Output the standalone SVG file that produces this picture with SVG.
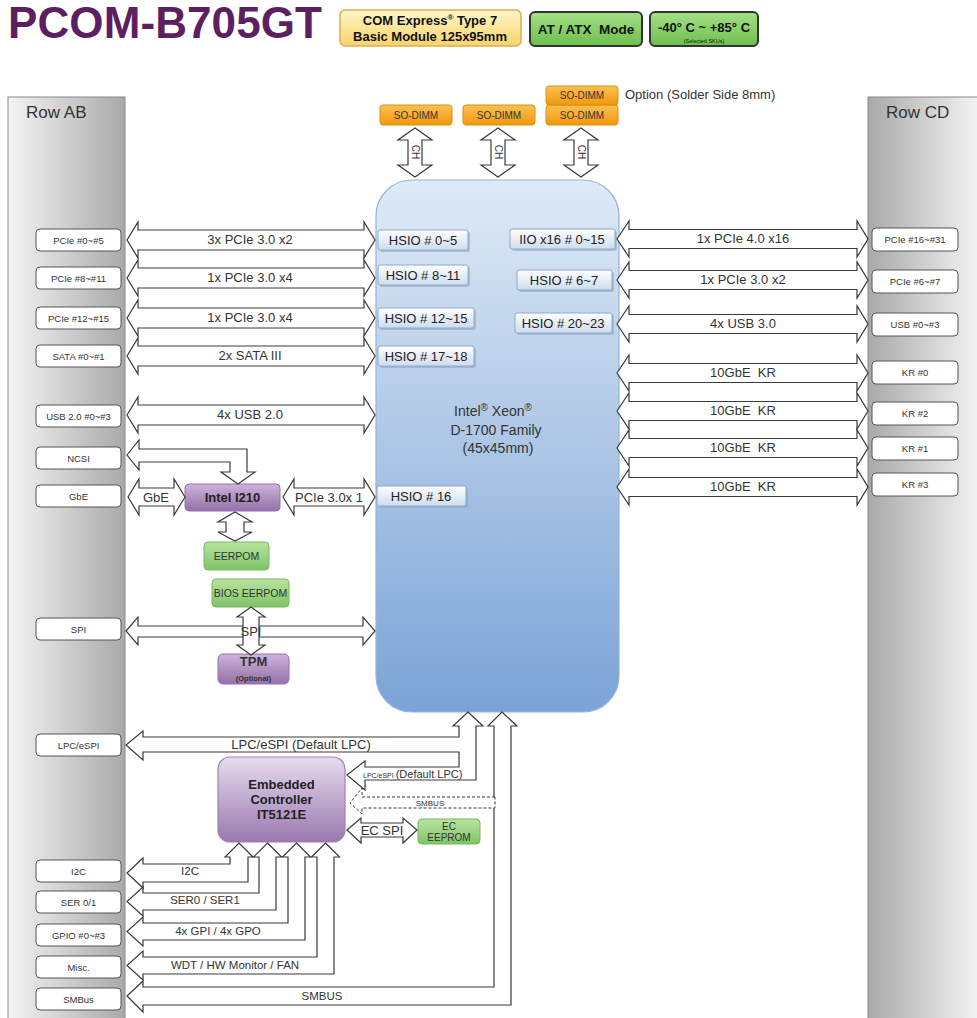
<svg xmlns="http://www.w3.org/2000/svg" width="977" height="1018" viewBox="0 0 977 1018">
<defs>
<linearGradient id="gAB" x1="0" y1="0" x2="1" y2="0"><stop offset="0" stop-color="#f4f4f4"/><stop offset="1" stop-color="#a9a9a9"/></linearGradient>
<linearGradient id="gCD" x1="0" y1="0" x2="1" y2="0"><stop offset="0" stop-color="#a9a9a9"/><stop offset="1" stop-color="#f4f4f4"/></linearGradient>
<linearGradient id="gCPU" x1="0" y1="0" x2="0" y2="1"><stop offset="0" stop-color="#dfeaf6"/><stop offset="1" stop-color="#7ba3d6"/></linearGradient>
<linearGradient id="gHS" x1="0" y1="0" x2="0" y2="1"><stop offset="0" stop-color="#ffffff"/><stop offset="1" stop-color="#cddcee"/></linearGradient>
<linearGradient id="gSO" x1="0" y1="0" x2="0" y2="1"><stop offset="0" stop-color="#fdc050"/><stop offset="1" stop-color="#f0980e"/></linearGradient>
<linearGradient id="gGr" x1="0" y1="0" x2="0" y2="1"><stop offset="0" stop-color="#b8e4a0"/><stop offset="1" stop-color="#7fc466"/></linearGradient>
<linearGradient id="gPu" x1="0" y1="0" x2="0" y2="1"><stop offset="0" stop-color="#cdb4da"/><stop offset="1" stop-color="#9470a8"/></linearGradient>
<linearGradient id="gEC" x1="0" y1="0" x2="0" y2="1"><stop offset="0" stop-color="#e6dcee"/><stop offset="1" stop-color="#9a78ae"/></linearGradient>
<linearGradient id="gYel" x1="0" y1="0" x2="0" y2="1"><stop offset="0" stop-color="#fff6c8"/><stop offset="1" stop-color="#f6d46a"/></linearGradient>
<linearGradient id="gGB" x1="0" y1="0" x2="0" y2="1"><stop offset="0" stop-color="#a6e088"/><stop offset="1" stop-color="#6cbf4c"/></linearGradient>
</defs>
<style>
text{font-family:"Liberation Sans",Arial,sans-serif;fill:#333}
.box{fill:#fff;stroke:#555;stroke-width:1}
.bt{font-size:9.5px;text-anchor:middle}
.arr{fill:#fff;stroke:#3a3a3a;stroke-width:1.2;stroke-linejoin:miter}
.dash{fill:#fff;stroke:#3a3a3a;stroke-width:1;stroke-dasharray:3,2}
.al{font-size:13px;text-anchor:middle}
.sl{font-size:11.5px;text-anchor:middle}
.hs{fill:url(#gHS);stroke:#90a8c8;stroke-width:1}
.hsh{fill:#8ea6c4;opacity:.6}
.ht{font-size:13px;text-anchor:middle;fill:#222}
.so{fill:url(#gSO);stroke:#d9900f;stroke-width:1}
.sot{font-size:10px;text-anchor:middle}
.gr{fill:url(#gGr);stroke:#78b860;stroke-width:1}
.grt{font-size:10.5px;text-anchor:middle}
.pu{fill:url(#gPu);stroke:#9a70b0;stroke-width:1}
</style>

<!-- header -->
<g id="title">
<text x="8" y="38" font-size="44" font-weight="bold" textLength="314" style="fill:#5c1f62">PCOM-B705GT</text>
</g>
<g id="badge-com">
<rect x="340" y="10" width="181" height="36" rx="5" fill="url(#gYel)" stroke="#d8b050" stroke-width="1.5"/>
<text x="430" y="25" font-size="13" font-weight="bold" text-anchor="middle" style="fill:#111">COM Express<tspan font-size="8" dy="-5">®</tspan><tspan dy="5"> Type 7</tspan></text>
<text x="430" y="41" font-size="13" font-weight="bold" text-anchor="middle" style="fill:#111">Basic Module 125x95mm</text>
</g>
<g id="badge-atx">
<rect x="530" y="12" width="112" height="34" rx="5" fill="url(#gGB)" stroke="#333" stroke-width="2"/>
<text x="586" y="34" font-size="13.5" font-weight="bold" text-anchor="middle" style="fill:#111">AT / ATX&#160; Mode</text>
</g>
<g id="badge-temp">
<rect x="650" y="12" width="108" height="34" rx="5" fill="url(#gGB)" stroke="#333" stroke-width="2"/>
<text x="704" y="32" font-size="13" font-weight="bold" text-anchor="middle" style="fill:#111">-40° C ~ +85° C</text>
<text x="704" y="43" font-size="5.5" text-anchor="middle" style="fill:#111">(Selected SKUs)</text>
</g>

<!-- columns -->
<g id="rowAB">
<rect x="8" y="97" width="117" height="925" fill="url(#gAB)" stroke="#888" stroke-width="1"/>
<text x="26" y="118" font-size="17">Row AB</text>
</g>
<g id="rowCD">
<rect x="868" y="97" width="112" height="925" fill="url(#gCD)" stroke="#888" stroke-width="1"/>
<text x="886" y="118" font-size="17">Row CD</text>
</g>

<!-- CPU -->
<g id="cpu">
<rect x="376" y="180" width="243" height="532" rx="36" fill="url(#gCPU)" stroke="#94b4dc" stroke-width="1.2"/>
<text x="493" y="416" font-size="14" text-anchor="middle">Intel<tspan font-size="10" dy="-5">®</tspan><tspan dy="5"> Xeon</tspan><tspan font-size="10" dy="-5">®</tspan></text>
<text x="496" y="435" font-size="14" text-anchor="middle">D-1700 Family</text>
<text x="498" y="453" font-size="14" text-anchor="middle">(45x45mm)</text>
<g id="hsio-0-5"><rect class="hsh" x="380" y="232" width="90" height="20" rx="2"/><rect class="hs" x="378" y="230" width="90" height="20" rx="2"/><text class="ht" x="423" y="245">HSIO # 0~5</text></g>
<g id="hsio-8-11"><rect class="hsh" x="380" y="267" width="90" height="20" rx="2"/><rect class="hs" x="378" y="265" width="90" height="20" rx="2"/><text class="ht" x="423" y="280">HSIO # 8~11</text></g>
<g id="hsio-12-15"><rect class="hsh" x="380" y="310" width="96" height="20" rx="2"/><rect class="hs" x="378" y="308" width="96" height="20" rx="2"/><text class="ht" x="426" y="323">HSIO # 12~15</text></g>
<g id="hsio-17-18"><rect class="hsh" x="380" y="348" width="96" height="20" rx="2"/><rect class="hs" x="378" y="346" width="96" height="20" rx="2"/><text class="ht" x="426" y="361">HSIO # 17~18</text></g>
<g id="hsio-16"><rect class="hsh" x="379" y="488" width="89" height="20" rx="2"/><rect class="hs" x="377" y="486" width="89" height="20" rx="2"/><text class="ht" x="421" y="501">HSIO # 16</text></g>
<g id="iio-0-15"><rect class="hsh" x="512" y="231" width="105" height="20" rx="2"/><rect class="hs" x="510" y="229" width="105" height="20" rx="2"/><text class="ht" x="562" y="244">IIO x16 # 0~15</text></g>
<g id="hsio-6-7"><rect class="hsh" x="519" y="272" width="95" height="20" rx="2"/><rect class="hs" x="517" y="270" width="95" height="20" rx="2"/><text class="ht" x="564" y="285">HSIO # 6~7</text></g>
<g id="hsio-20-23"><rect class="hsh" x="517" y="315" width="97" height="20" rx="2"/><rect class="hs" x="515" y="313" width="97" height="20" rx="2"/><text class="ht" x="563" y="328">HSIO # 20~23</text></g>
</g>

<!-- SO-DIMM -->
<g id="sodimm1"><rect class="so" x="380" y="105" width="72" height="20" rx="3"/><text class="sot" x="416" y="119">SO-DIMM</text></g>
<g id="sodimm2"><rect class="so" x="463" y="105" width="72" height="20" rx="3"/><text class="sot" x="499" y="119">SO-DIMM</text></g>
<g id="sodimm3"><rect class="so" x="546" y="105" width="72" height="20" rx="3"/><text class="sot" x="582" y="119">SO-DIMM</text></g>
<g id="sodimm4"><rect class="so" x="546" y="86" width="72" height="19" rx="3"/><text class="sot" x="582" y="99">SO-DIMM</text></g>
<text x="625" y="99" font-size="13">Option (Solder Side 8mm)</text>

<!-- left boxes -->
<g id="ab-pcie0"><rect class="box" x="36" y="229" width="85" height="22" rx="4"/><text class="bt" x="78.5" y="243.5">PCIe #0~#5</text></g>
<g id="ab-pcie8"><rect class="box" x="36" y="267" width="85" height="22" rx="4"/><text class="bt" x="78.5" y="281.5">PCIe #8~#11</text></g>
<g id="ab-pcie12"><rect class="box" x="36" y="307" width="85" height="22" rx="4"/><text class="bt" x="78.5" y="321.5">PCIe #12~#15</text></g>
<g id="ab-sata"><rect class="box" x="36" y="345" width="85" height="22" rx="4"/><text class="bt" x="78.5" y="359.5">SATA #0~#1</text></g>
<g id="ab-usb2"><rect class="box" x="36" y="405" width="85" height="22" rx="4"/><text class="bt" x="78.5" y="419.5">USB 2.0 #0~#3</text></g>
<g id="ab-ncsi"><rect class="box" x="36" y="447" width="85" height="22" rx="4"/><text class="bt" x="78.5" y="461.5">NCSI</text></g>
<g id="ab-gbe"><rect class="box" x="36" y="485" width="85" height="22" rx="4"/><text class="bt" x="78.5" y="499.5">GbE</text></g>
<g id="ab-spi"><rect class="box" x="36" y="618" width="85" height="22" rx="4"/><text class="bt" x="78.5" y="632.5">SPI</text></g>
<g id="ab-lpc"><rect class="box" x="36" y="734" width="85" height="22" rx="4"/><text class="bt" x="78.5" y="748.5">LPC/eSPI</text></g>
<g id="ab-i2c"><rect class="box" x="36" y="860" width="85" height="22" rx="4"/><text class="bt" x="78.5" y="874.5">I2C</text></g>
<g id="ab-ser"><rect class="box" x="36" y="891" width="85" height="22" rx="4"/><text class="bt" x="78.5" y="905.5">SER 0/1</text></g>
<g id="ab-gpio"><rect class="box" x="36" y="924" width="85" height="22" rx="4"/><text class="bt" x="78.5" y="938.5">GPIO #0~#3</text></g>
<g id="ab-misc"><rect class="box" x="36" y="956" width="85" height="22" rx="4"/><text class="bt" x="78.5" y="970.5">Misc.</text></g>
<g id="ab-smbus"><rect class="box" x="36" y="988" width="85" height="22" rx="4"/><text class="bt" x="78.5" y="1002.5">SMBus</text></g>

<!-- right boxes -->
<g id="cd-pcie16"><rect class="box" x="872" y="228" width="86" height="23" rx="4"/><text class="bt" x="915" y="243">PCIe #16~#31</text></g>
<g id="cd-pcie6"><rect class="box" x="872" y="270" width="86" height="23" rx="4"/><text class="bt" x="915" y="285">PCIe #6~#7</text></g>
<g id="cd-usb"><rect class="box" x="872" y="313" width="86" height="23" rx="4"/><text class="bt" x="915" y="328">USB #0~#3</text></g>
<g id="cd-kr0"><rect class="box" x="872" y="361" width="86" height="23" rx="4"/><text class="bt" x="915" y="376">KR #0</text></g>
<g id="cd-kr2"><rect class="box" x="872" y="402" width="86" height="23" rx="4"/><text class="bt" x="915" y="417">KR #2</text></g>
<g id="cd-kr1"><rect class="box" x="872" y="437" width="86" height="23" rx="4"/><text class="bt" x="915" y="452">KR #1</text></g>
<g id="cd-kr3"><rect class="box" x="872" y="473" width="86" height="23" rx="4"/><text class="bt" x="915" y="488">KR #3</text></g>

<!-- other chips -->
<g id="i210"><rect class="pu" x="185" y="484" width="95" height="27" rx="4"/><text x="232.5" y="502" font-size="13" font-weight="bold" text-anchor="middle" style="fill:#222">Intel I210</text></g>
<g id="eerpom"><rect class="gr" x="204" y="542" width="65" height="28" rx="4"/><text class="grt" x="236.5" y="560">EERPOM</text></g>
<g id="bios"><rect class="gr" x="212" y="579" width="77" height="28" rx="4"/><text class="grt" x="250.5" y="597">BIOS EERPOM</text></g>
<g id="tpm"><rect class="pu" x="218" y="654" width="71" height="30" rx="5"/><text x="253.5" y="666" font-size="13" font-weight="bold" text-anchor="middle" style="fill:#333">TPM</text><text x="253.5" y="681" font-size="7.5" font-weight="bold" text-anchor="middle" style="fill:#333">(Optional)</text></g>
<g id="ec"><rect x="218" y="757" width="127" height="85" rx="12" fill="url(#gEC)" stroke="#a080b8" stroke-width="1.2"/>
<text x="281.5" y="789" font-size="13" font-weight="bold" text-anchor="middle" style="fill:#222">Embedded</text>
<text x="281.5" y="804" font-size="13" font-weight="bold" text-anchor="middle" style="fill:#222">Controller</text>
<text x="281.5" y="819" font-size="13" font-weight="bold" text-anchor="middle" style="fill:#222">IT5121E</text></g>
<g id="eceeprom"><rect class="gr" x="418" y="819" width="62" height="25" rx="4"/><text x="449" y="830" font-size="10" text-anchor="middle">EC</text><text x="449" y="841" font-size="10" text-anchor="middle">EEPROM</text></g>

<!-- connectors -->
<g id="connectors">
<path class="arr" d="M415,128 L432,140 L422,140 L422,165 L432,165 L415,177 L398,165 L408,165 L408,140 L398,140 Z"/>
<path class="arr" d="M498,128 L515,140 L505,140 L505,165 L515,165 L498,177 L481,165 L491,165 L491,140 L481,140 Z"/>
<path class="arr" d="M581,128 L598,140 L588,140 L588,165 L598,165 L581,177 L564,165 L574,165 L574,140 L564,140 Z"/>
<path class="arr" d="M127,240 L138,222 L138,230 L364,230 L364,222 L375,240 L364,258 L364,250 L138,250 L138,258 Z"/>
<path class="arr" d="M127,278 L138,260 L138,268 L364,268 L364,260 L375,278 L364,296 L364,288 L138,288 L138,296 Z"/>
<path class="arr" d="M127,318 L138,300 L138,308 L364,308 L364,300 L375,318 L364,336 L364,328 L138,328 L138,336 Z"/>
<path class="arr" d="M127,356 L138,338 L138,346 L364,346 L364,338 L375,356 L364,374 L364,366 L138,366 L138,374 Z"/>
<path class="arr" d="M127,415 L138,397 L138,405 L364,405 L364,397 L375,415 L364,433 L364,425 L138,425 L138,433 Z"/>
<path class="arr" d="M127,455 L139,440 L139,449 L247,449 L247,472 L255,472 L238,484 L221,472 L230,472 L230,462 L139,462 L139,470 Z"/>
<path class="arr" d="M128,497 L139,479 L139,488 L174,488 L174,479 L185,497 L174,515 L174,506 L139,506 L139,515 Z"/>
<path class="arr" d="M283,497 L294,479 L294,488 L364,488 L364,479 L375,497 L364,515 L364,506 L294,506 L294,515 Z"/>
<path class="arr" d="M235,512 L252,522 L244,522 L244,532 L252,532 L235,541 L218,532 L226,532 L226,522 L218,522 Z"/>
<path class="arr" d="M126,631 L138,617 L138,626 L363,626 L363,617 L375,631 L363,645 L363,637 L138,637 L138,645 Z"/>
<path class="arr" d="M251,607 L265,617 L259,617 L259,645 L265,645 L251,655 L237,645 L243,645 L243,617 L237,617 Z"/>
<path class="arr" d="M617,239 L629,221 L629,229.5 L857,229.5 L857,221 L868,239 L857,257 L857,248.5 L629,248.5 L629,257 Z"/>
<path class="arr" d="M617,280 L629,262 L629,270.5 L857,270.5 L857,262 L868,280 L857,298 L857,289.5 L629,289.5 L629,298 Z"/>
<path class="arr" d="M617,324 L629,306 L629,314.5 L857,314.5 L857,306 L868,324 L857,342 L857,333.5 L629,333.5 L629,342 Z"/>
<path class="arr" d="M617,373 L629,355 L629,363.5 L857,363.5 L857,355 L868,373 L857,391 L857,382.5 L629,382.5 L629,391 Z"/>
<path class="arr" d="M617,411 L629,393 L629,401.5 L857,401.5 L857,393 L868,411 L857,429 L857,420.5 L629,420.5 L629,429 Z"/>
<path class="arr" d="M617,448 L629,430 L629,438.5 L857,438.5 L857,430 L868,448 L857,466 L857,457.5 L629,457.5 L629,466 Z"/>
<path class="arr" d="M617,487 L629,469 L629,477.5 L857,477.5 L857,469 L868,487 L857,505 L857,496.5 L629,496.5 L629,505 Z"/>
<path class="arr" d="M468,712 L483,726 L476,726 L476,780 L365,780 L365,790 L347,775 L365,761 L365,767 L459,767 L459,752 L143,752 L143,760 L126,745 L143,731 L143,737 L459,737 L459,726 L453,726 Z"/>
<path class="arr" d="M502,712 L517,726 L511,726 L511,1005 L143,1005 L143,1012 L127,996 L143,981 L143,987 L494,987 L494,726 L488,726 Z"/>
<path class="dash" d="M495,797 L362,797 L362,788 L350,803 L362,814 L362,808 L495,808 Z"/>
<path class="arr" d="M347,830 L361,818 L361,823 L403,823 L403,818 L417,830 L403,843 L403,837 L361,837 L361,843 Z"/>
<path class="arr" d="M239,843 L253,857 L248,857 L248,882 L143,882 L143,888 L127,873 L143,858 L143,864 L230,864 L230,857 L225,857 Z"/>
<path class="arr" d="M267.5,843 L281.5,857 L276,857 L276,910 L143,910 L143,916 L127,901.5 L143,887 L143,893 L259,893 L259,857 L253.5,857 Z"/>
<path class="arr" d="M296.5,843 L310.5,857 L305,857 L305,940 L143,940 L143,946 L127,931.5 L143,917 L143,923 L288,923 L288,857 L282.5,857 Z"/>
<path class="arr" d="M325.5,843 L339.5,857 L334,857 L334,974 L143,974 L143,980 L127,965.5 L143,951 L143,957 L317,957 L317,857 L311.5,857 Z"/>
</g>

<!-- connector labels -->
<g id="connector-labels">
<text x="415" y="152" font-size="10" text-anchor="middle" transform="rotate(90 415 152)" dy="3.5">CH</text>
<text x="498" y="152" font-size="10" text-anchor="middle" transform="rotate(90 498 152)" dy="3.5">CH</text>
<text x="581" y="152" font-size="10" text-anchor="middle" transform="rotate(90 581 152)" dy="3.5">CH</text>
<text class="al" x="250" y="244">3x PCIe 3.0 x2</text>
<text class="al" x="250" y="282">1x PCIe 3.0 x4</text>
<text class="al" x="250" y="322">1x PCIe 3.0 x4</text>
<text class="al" x="250" y="360">2x SATA III</text>
<text class="al" x="250" y="419">4x USB 2.0</text>
<text class="al" x="156" y="502">GbE</text>
<text class="al" x="329" y="502" font-size="12.5">PCIe 3.0x 1</text>
<text class="al" x="251" y="636">SPI</text>
<text class="al" x="743" y="243">1x PCIe 4.0 x16</text>
<text class="al" x="743" y="284">1x PCIe 3.0 x2</text>
<text class="al" x="743" y="328">4x USB 3.0</text>
<text class="al" x="743" y="377">10GbE&#160; KR</text>
<text class="al" x="743" y="415">10GbE&#160; KR</text>
<text class="al" x="743" y="452">10GbE&#160; KR</text>
<text class="al" x="743" y="491">10GbE&#160; KR</text>
<text class="al" x="301" y="749" font-size="12.5">LPC/eSPI (Default LPC)</text>
<text x="363" y="778" font-size="7">LPC/eSPI <tspan font-size="11">(Default LPC)</tspan></text>
<text x="430" y="806" font-size="8" text-anchor="middle">SMBUS</text>
<text class="al" x="382" y="835" font-size="12.5">EC SPI</text>
<text class="sl" x="190" y="875">I2C</text>
<text class="sl" x="205" y="904">SER0 / SER1</text>
<text class="sl" x="218" y="935">4x GPI / 4x GPO</text>
<text class="sl" x="235" y="969">WDT / HW Monitor / FAN</text>
<text class="sl" x="322" y="1000">SMBUS</text>
</g>
</svg>
